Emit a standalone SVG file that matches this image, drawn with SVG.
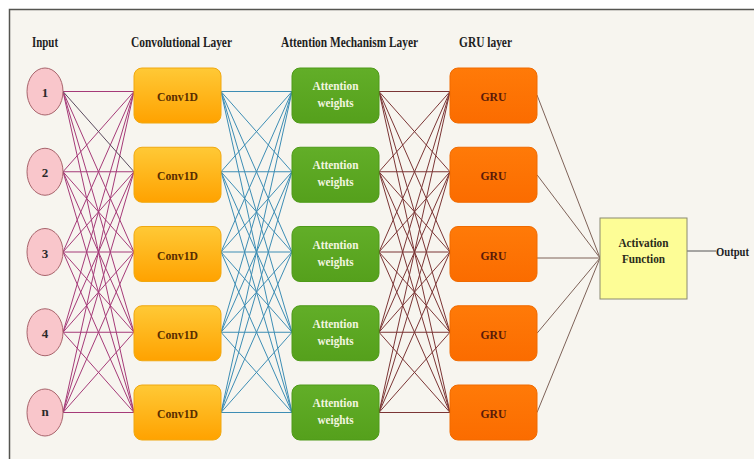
<svg xmlns="http://www.w3.org/2000/svg" width="754" height="459" viewBox="0 0 754 459">
<defs>
<linearGradient id="gConv" x1="0" y1="0" x2="0" y2="1"><stop offset="0" stop-color="#ffc936"/><stop offset="1" stop-color="#ffa200"/></linearGradient>
<linearGradient id="gAtt" x1="0" y1="0" x2="0" y2="1"><stop offset="0" stop-color="#62ae28"/><stop offset="1" stop-color="#55a01c"/></linearGradient>
<linearGradient id="gGru" x1="0" y1="0" x2="0" y2="1"><stop offset="0" stop-color="#ff7a08"/><stop offset="1" stop-color="#fb6c00"/></linearGradient>
<style>
.hdr{font-family:"Liberation Serif","Times New Roman",serif;font-weight:bold;font-size:14px;fill:#1e1e1e}
.lbl{font-family:"Liberation Serif","Times New Roman",serif;font-weight:bold;font-size:13px;text-anchor:middle}
.inp{fill:#f9c6cb;stroke:#a8646c;stroke-width:1}
.conv{fill:url(#gConv);stroke:#f0a810;stroke-width:1}
.att{fill:url(#gAtt);stroke:#4e9a18;stroke-width:1}
.gru{fill:url(#gGru);stroke:#f06a00;stroke-width:1}
.l1{stroke:#a53a78;stroke-width:1;fill:none}
.l1d{stroke:#5a4a5e;stroke-width:1;fill:none}
.l2{stroke:#3d8db4;stroke-width:1;fill:none}
.l3{stroke:#7b3535;stroke-width:1;fill:none}
.l4{stroke:#7e6258;stroke-width:1;fill:none}
</style>
</defs>
<rect x="0" y="0" width="754" height="459" fill="#ffffff"/>
<rect x="9.5" y="9.5" width="745" height="450" fill="#f7f5ef"/>
<path d="M9.5 459V9.5H754" fill="none" stroke="#555550" stroke-width="1.5"/>

<g id="headers">
<text class="hdr" x="32" y="47" textLength="26" lengthAdjust="spacingAndGlyphs">Input</text>
<text class="hdr" x="131" y="47" textLength="101" lengthAdjust="spacingAndGlyphs">Convolutional Layer</text>
<text class="hdr" x="281" y="47" textLength="137" lengthAdjust="spacingAndGlyphs">Attention Mechanism Layer</text>
<text class="hdr" x="459" y="47" textLength="53" lengthAdjust="spacingAndGlyphs">GRU layer</text>
</g>

<g id="connectors">
<g class="l1">
<path d="M63 91.5L134 91.5M63 91.5L134 252M63 91.5L134 332.25M63 91.5L134 412.5"/>
<path d="M63 171.75L134 91.5M63 171.75L134 171.75M63 171.75L134 252M63 171.75L134 332.25M63 171.75L134 412.5"/>
<path d="M63 252L134 91.5M63 252L134 171.75M63 252L134 252M63 252L134 332.25M63 252L134 412.5"/>
<path d="M63 332.25L134 91.5M63 332.25L134 171.75M63 332.25L134 252M63 332.25L134 332.25M63 332.25L134 412.5"/>
<path d="M63 412.5L134 91.5M63 412.5L134 171.75M63 412.5L134 252M63 412.5L134 332.25M63 412.5L134 412.5"/>
</g>
<path class="l1d" d="M63 91.5L134 171.75"/>
<g class="l2">
<path d="M221 91.5L292 91.5M221 91.5L292 171.75M221 91.5L292 252M221 91.5L292 332.25M221 91.5L292 412.5"/>
<path d="M221 171.75L292 91.5M221 171.75L292 171.75M221 171.75L292 252M221 171.75L292 332.25M221 171.75L292 412.5"/>
<path d="M221 252L292 91.5M221 252L292 171.75M221 252L292 252M221 252L292 332.25M221 252L292 412.5"/>
<path d="M221 332.25L292 91.5M221 332.25L292 171.75M221 332.25L292 252M221 332.25L292 332.25M221 332.25L292 412.5"/>
<path d="M221 412.5L292 91.5M221 412.5L292 171.75M221 412.5L292 252M221 412.5L292 332.25M221 412.5L292 412.5"/>
</g>
<g class="l3">
<path d="M379 91.5L450 91.5M379 91.5L450 171.75M379 91.5L450 252M379 91.5L450 332.25M379 91.5L450 412.5"/>
<path d="M379 171.75L450 91.5M379 171.75L450 171.75M379 171.75L450 252M379 171.75L450 332.25M379 171.75L450 412.5"/>
<path d="M379 252L450 91.5M379 252L450 171.75M379 252L450 252M379 252L450 332.25M379 252L450 412.5"/>
<path d="M379 332.25L450 91.5M379 332.25L450 171.75M379 332.25L450 252M379 332.25L450 332.25M379 332.25L450 412.5"/>
<path d="M379 412.5L450 91.5M379 412.5L450 171.75M379 412.5L450 252M379 412.5L450 332.25M379 412.5L450 412.5"/>
</g>
<g class="l4">
<path d="M537 95L600 258M537 174.75L600 258M537 258L600 258M537 333.25L600 258M537 412.5L600 258"/>
</g>
<path d="M687 251H716" stroke="#555555" stroke-width="1" fill="none"/>
</g>

<g id="in1"><ellipse class="inp" cx="45" cy="91.5" rx="18" ry="23.5"/><text class="lbl" x="45" y="97" fill="#2a2a2a">1</text></g>
<g id="in2"><ellipse class="inp" cx="45" cy="171.75" rx="18" ry="23.5"/><text class="lbl" x="45" y="177.25" fill="#2a2a2a">2</text></g>
<g id="in3"><ellipse class="inp" cx="45" cy="252" rx="18" ry="23.5"/><text class="lbl" x="45" y="257.5" fill="#2a2a2a">3</text></g>
<g id="in4"><ellipse class="inp" cx="45" cy="332.25" rx="18" ry="23.5"/><text class="lbl" x="45" y="337.75" fill="#2a2a2a">4</text></g>
<g id="inn"><ellipse class="inp" cx="45" cy="412.5" rx="18" ry="23.5"/><text class="lbl" x="45" y="416" fill="#2a2a2a">n</text></g>

<g id="conv1"><rect class="conv" x="134" y="68" width="87" height="55" rx="8"/><text class="lbl" x="177.5" y="101" fill="#5a2e00" textLength="41" lengthAdjust="spacingAndGlyphs">Conv1D</text></g>
<g id="conv2"><rect class="conv" x="134" y="147.25" width="87" height="55" rx="8"/><text class="lbl" x="177.5" y="180.25" fill="#5a2e00" textLength="41" lengthAdjust="spacingAndGlyphs">Conv1D</text></g>
<g id="conv3"><rect class="conv" x="134" y="226.5" width="87" height="55" rx="8"/><text class="lbl" x="177.5" y="259.5" fill="#5a2e00" textLength="41" lengthAdjust="spacingAndGlyphs">Conv1D</text></g>
<g id="conv4"><rect class="conv" x="134" y="305.75" width="87" height="55" rx="8"/><text class="lbl" x="177.5" y="338.75" fill="#5a2e00" textLength="41" lengthAdjust="spacingAndGlyphs">Conv1D</text></g>
<g id="conv5"><rect class="conv" x="134" y="385" width="87" height="55" rx="8"/><text class="lbl" x="177.5" y="418" fill="#5a2e00" textLength="41" lengthAdjust="spacingAndGlyphs">Conv1D</text></g>

<g id="att1"><rect class="att" x="292" y="68" width="87" height="55" rx="8"/><text class="lbl" x="335.5" y="90" fill="#f4f6e0" textLength="46" lengthAdjust="spacingAndGlyphs">Attention</text><text class="lbl" x="335.5" y="107" fill="#f4f6e0" textLength="36" lengthAdjust="spacingAndGlyphs">weights</text></g>
<g id="att2"><rect class="att" x="292" y="147.25" width="87" height="55" rx="8"/><text class="lbl" x="335.5" y="169.25" fill="#f4f6e0" textLength="46" lengthAdjust="spacingAndGlyphs">Attention</text><text class="lbl" x="335.5" y="186.25" fill="#f4f6e0" textLength="36" lengthAdjust="spacingAndGlyphs">weights</text></g>
<g id="att3"><rect class="att" x="292" y="226.5" width="87" height="55" rx="8"/><text class="lbl" x="335.5" y="248.5" fill="#f4f6e0" textLength="46" lengthAdjust="spacingAndGlyphs">Attention</text><text class="lbl" x="335.5" y="265.5" fill="#f4f6e0" textLength="36" lengthAdjust="spacingAndGlyphs">weights</text></g>
<g id="att4"><rect class="att" x="292" y="305.75" width="87" height="55" rx="8"/><text class="lbl" x="335.5" y="327.75" fill="#f4f6e0" textLength="46" lengthAdjust="spacingAndGlyphs">Attention</text><text class="lbl" x="335.5" y="344.75" fill="#f4f6e0" textLength="36" lengthAdjust="spacingAndGlyphs">weights</text></g>
<g id="att5"><rect class="att" x="292" y="385" width="87" height="55" rx="8"/><text class="lbl" x="335.5" y="407" fill="#f4f6e0" textLength="46" lengthAdjust="spacingAndGlyphs">Attention</text><text class="lbl" x="335.5" y="424" fill="#f4f6e0" textLength="36" lengthAdjust="spacingAndGlyphs">weights</text></g>

<g id="gru1"><rect class="gru" x="450" y="68" width="87" height="55" rx="8"/><text class="lbl" x="493.5" y="101" fill="#5a1a08" textLength="26" lengthAdjust="spacingAndGlyphs">GRU</text></g>
<g id="gru2"><rect class="gru" x="450" y="147.25" width="87" height="55" rx="8"/><text class="lbl" x="493.5" y="180.25" fill="#5a1a08" textLength="26" lengthAdjust="spacingAndGlyphs">GRU</text></g>
<g id="gru3"><rect class="gru" x="450" y="226.5" width="87" height="55" rx="8"/><text class="lbl" x="493.5" y="259.5" fill="#5a1a08" textLength="26" lengthAdjust="spacingAndGlyphs">GRU</text></g>
<g id="gru4"><rect class="gru" x="450" y="305.75" width="87" height="55" rx="8"/><text class="lbl" x="493.5" y="338.75" fill="#5a1a08" textLength="26" lengthAdjust="spacingAndGlyphs">GRU</text></g>
<g id="gru5"><rect class="gru" x="450" y="385" width="87" height="55" rx="8"/><text class="lbl" x="493.5" y="418" fill="#5a1a08" textLength="26" lengthAdjust="spacingAndGlyphs">GRU</text></g>

<g id="activation"><rect x="600" y="218" width="87" height="81" fill="#fdfd96" stroke="#8a8a70" stroke-width="1"/><text class="lbl" x="643.5" y="247" fill="#2a2a1a" textLength="50" lengthAdjust="spacingAndGlyphs">Activation</text><text class="lbl" x="643.5" y="263" fill="#2a2a1a" textLength="43" lengthAdjust="spacingAndGlyphs">Function</text></g>

<g id="output"><text x="716" y="255.5" font-family="'Liberation Serif','Times New Roman',serif" font-weight="bold" font-size="12" fill="#1e1e1e" textLength="33" lengthAdjust="spacingAndGlyphs">Output</text></g>
</svg>
